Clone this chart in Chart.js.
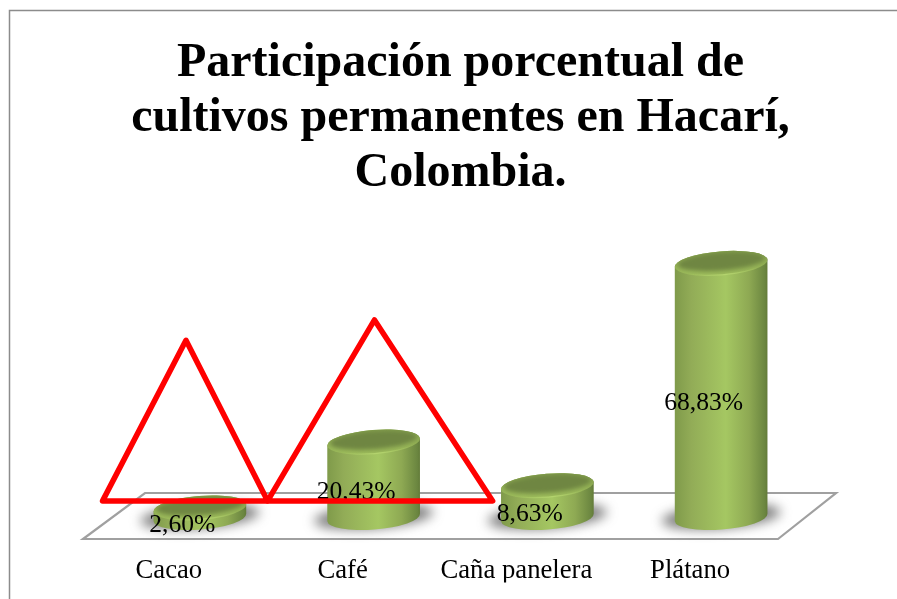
<!DOCTYPE html>
<html>
<head>
<meta charset="utf-8">
<title>Cultivos permanentes en Hacarí</title>
<script src="https://cdn.jsdelivr.net/npm/chart.js@4/dist/chart.umd.min.js"></script>
<style>
    html, body { margin: 0; padding: 0; background: #fff; overflow: hidden; }
    canvas { display: block; }
</style>
</head>
<body>
<canvas id="grafico" width="897" height="599"></canvas>
<script>
const titleLines = ['Participación porcentual de', 'cultivos permanentes en Hacarí,', 'Colombia.'];
const categories = ['Cacao', 'Café', 'Caña panelera', 'Plátano'];
const shares = [2.60, 20.43, 8.63, 68.83];

// triangulos rojos, x en posiciones de categoria, y en porcentaje
const triangleOneX = [-0.56, -0.08, 0.39, -0.56];
const triangleOneY = [4.5, 48.0, 4.5, 4.5];
const triangleTwoX = [0.39, 1.005, 1.685, 0.39];
const triangleTwoY = [4.5, 53.5, 4.5, 4.5];

const SERIF = '"Liberation Serif", "Times New Roman", serif';

function toPoints(xs, ys) {
    return xs.map((x, i) => ({ x: x, y: ys[i] }));
}

function fmtPct(v) {
    return v.toFixed(2).replace('.', ',') + '%';
}

const TILT = -4.5 * Math.PI / 180;
const CAP_RY = 12;

function drawCap(c, bar) {
    const rx = bar.width / 2;
    const edge = c.createLinearGradient(0, bar.y - CAP_RY, 0, bar.y + CAP_RY);
    edge.addColorStop(0, '#86a24e');
    edge.addColorStop(1, '#9dbc5b');
    c.save();
    c.fillStyle = edge;
    c.beginPath();
    c.ellipse(bar.x, bar.y, rx, CAP_RY, TILT, 0, Math.PI * 2);
    c.fill();
    c.clip();
    // parte oscura de la tapa
    c.filter = 'blur(2px)';
    c.fillStyle = '#6f8642';
    c.beginPath();
    c.ellipse(bar.x, bar.y - 2, rx - 3, CAP_RY - 3, TILT, 0, Math.PI * 2);
    c.fill();
    c.restore();
    // brillo del borde frontal
    const rim = c.createLinearGradient(bar.x - rx, 0, bar.x + rx, 0);
    rim.addColorStop(0.15, 'rgba(180,212,110,0)');
    rim.addColorStop(0.55, 'rgba(180,212,110,1)');
    rim.addColorStop(0.9, 'rgba(180,212,110,0)');
    c.save();
    c.strokeStyle = rim;
    c.lineWidth = 1.2;
    c.beginPath();
    c.ellipse(bar.x, bar.y, rx - 0.5, CAP_RY - 0.5, TILT, 0.15 * Math.PI, 0.85 * Math.PI);
    c.stroke();
    c.restore();
}

const cylinders = {
    id: 'cylinders',
    beforeDraw(chart) {
        const c = chart.ctx;
        c.save();
        c.fillStyle = '#fff';
        c.fillRect(0, 0, chart.width, chart.height);
        c.strokeStyle = '#8c8c8c';
        c.lineWidth = 1.5;
        c.strokeRect(9.5, 10.5, 1000, 1000);
        c.restore();
    },
    // piso y sombras
    beforeDatasetsDraw(chart) {
        const c = chart.ctx;
        const a = chart.chartArea;
        c.save();
        c.strokeStyle = '#a0a0a0';
        c.lineWidth = 2.2;
        c.beginPath();
        c.moveTo(a.left + 32, a.bottom - 24.5);
        c.lineTo(a.right + 28, a.bottom - 24.5);
        c.lineTo(a.right - 30, a.bottom + 21.5);
        c.lineTo(a.left - 30, a.bottom + 21.5);
        c.closePath();
        c.stroke();
        chart.getDatasetMeta(0).data.forEach(bar => {
            c.save();
            c.filter = 'blur(6px)';
            c.fillStyle = 'rgba(70,70,70,0.7)';
            c.beginPath();
            c.ellipse(bar.x, bar.base - 1, bar.width / 2 + 13, CAP_RY, TILT, 0, Math.PI * 2);
            c.fill();
            c.restore();
        });
        c.restore();
    },
    // cuerpo, tapa y etiqueta despues de las barras, antes de los triangulos
    afterDatasetDraw(chart, args) {
        if (args.index !== 0) return;
        const c = chart.ctx;
        args.meta.data.forEach((bar, i) => {
            const rx = bar.width / 2;
            const left = bar.x - rx;
            const body = c.createLinearGradient(left, 0, left + bar.width, 0);
            body.addColorStop(0, '#7f9a4a');
            body.addColorStop(0.18, '#92ac57');
            body.addColorStop(0.55, '#a5c762');
            body.addColorStop(0.8, '#8ea953');
            body.addColorStop(0.97, '#6b8640');
            body.addColorStop(1, '#627a38');
            c.save();
            c.fillStyle = body;
            c.beginPath();
            c.ellipse(bar.x, bar.base, rx, CAP_RY, TILT, 0, Math.PI);
            c.ellipse(bar.x, bar.y, rx, CAP_RY, TILT, Math.PI, Math.PI * 2);
            c.closePath();
            c.fill();
            c.restore();

            drawCap(c, bar);

            c.save();
            c.fillStyle = '#000';
            c.font = '25.6px ' + SERIF;
            c.textAlign = 'center';
            c.textBaseline = 'middle';
            c.fillText(fmtPct(shares[i]), bar.x - 17.5, (bar.y + bar.base) / 2 + 12.5);
            c.restore();
        });
    }
};

new Chart(document.getElementById('grafico'), {
    type: 'bar',
    data: {
        labels: categories,
        datasets: [
            {
                label: 'Participación',
                data: shares,
                order: 2,
                grouped: false,
                backgroundColor: 'transparent',
                categoryPercentage: 1,
                barPercentage: 0.535,
                xAxisID: 'x',
                yAxisID: 'y'
            },
            {
                type: 'scatter',
                data: toPoints(triangleOneX, triangleOneY),
                order: 1,
                showLine: true,
                clip: false,
                borderColor: '#ff0000',
                borderWidth: 5.5,
                borderJoinStyle: 'round',
                borderCapStyle: 'round',
                pointRadius: 0,
                xAxisID: 'xOverlay',
                yAxisID: 'y'
            },
            {
                type: 'scatter',
                data: toPoints(triangleTwoX, triangleTwoY),
                order: 0,
                showLine: true,
                clip: false,
                borderColor: '#ff0000',
                borderWidth: 5.5,
                borderJoinStyle: 'round',
                borderCapStyle: 'round',
                pointRadius: 0,
                xAxisID: 'xOverlay',
                yAxisID: 'y'
            }
        ]
    },
    plugins: [cylinders],
    options: {
        responsive: false,
        animation: false,
        events: [],
        layout: { padding: { left: 113, right: 89, top: 0, bottom: 16.5 } },
        plugins: {
            legend: { display: false },
            tooltip: { enabled: false },
            title: {
                display: true,
                fullSize: false,
                text: titleLines,
                color: '#000',
                font: { family: SERIF, size: 48, weight: 'bold', lineHeight: 1.146 },
                padding: { top: 36, bottom: 58 }
            }
        },
        scales: {
            x: {
                type: 'category',
                grid: { display: false, drawTicks: false },
                border: { display: false },
                afterFit: function (scale) { scale.height = 65; },
                ticks: {
                    color: '#000',
                    font: { family: SERIF, size: 26.7 },
                    padding: 37,
                    labelOffset: -31,
                    maxRotation: 0,
                    autoSkip: false
                }
            },
            xOverlay: { type: 'linear', display: false, offset: false, min: -0.5, max: 3.5, position: 'bottom' },
            y: { type: 'linear', display: false, min: 0, max: 70, beginAtZero: true }
        }
    }
});
</script>
</body>
</html>
